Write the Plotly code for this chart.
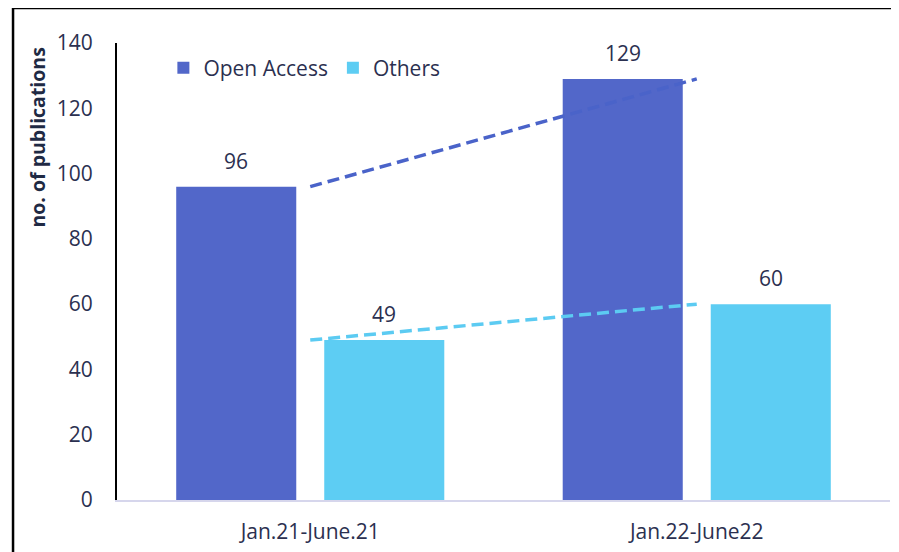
import plotly.graph_objects as go

categories = ["Jan.21-June.21", "Jan.22-June22"]
open_access = [96, 129]
others = [49, 60]
y_ticks = [0, 20, 40, 60, 80, 100, 120, 140]

FONT = "Open Sans"
TXT = "#2b3050"
FS = 21

fig = go.Figure()
fig.add_trace(go.Bar(
    x=categories, y=open_access, name="Open Access",
    marker=dict(color="#5267c9", line=dict(width=0)),
))
fig.add_trace(go.Bar(
    x=categories, y=others, name="Others",
    marker=dict(color="#5dcdf3", line=dict(width=0)),
))
fig.add_trace(go.Scatter(
    x=categories, y=open_access, mode="lines", showlegend=False,
    line=dict(color="#4a63c9", width=3.5, dash="12px,6px"), hoverinfo="skip",
))
fig.add_trace(go.Scatter(
    x=categories, y=others, mode="lines", showlegend=False,
    line=dict(color="#5ccbf2", width=3.5, dash="12px,6px"), hoverinfo="skip",
))

# value labels above bars (Excel-style larger gap)
labels = []
for vals, xs in ((open_access, -74), (others, 74)):
    for c, v in zip(categories, vals):
        labels.append(dict(x=c, y=v, text=str(v), xref="x", yref="y",
                           xanchor="center", yanchor="bottom", showarrow=False,
                           xshift=xs, yshift=10,
                           font=dict(size=FS, color=TXT, family=FONT)))

labels.append(dict(text="<b>no. of publications</b>", textangle=-90,
                   xref="paper", yref="paper", x=-0.103, y=0.794,
                   xanchor="center", yanchor="middle", showarrow=False,
                   font=dict(size=19.5, color="#1f2a44", family=FONT)))

fig.update_layout(
    width=899, height=552,
    margin=dict(l=109, r=17, t=35, b=60),
    paper_bgcolor="white", plot_bgcolor="white",
    barmode="group", bargap=0.234, bargroupgap=0.189,
    font=dict(family=FONT, size=FS, color=TXT),
    legend=dict(orientation="h", x=0.06, y=0.945, xanchor="left", yanchor="middle",
                font=dict(size=FS, color=TXT, family=FONT), itemwidth=30,
                bgcolor="rgba(0,0,0,0)", traceorder="normal"),
    xaxis=dict(showgrid=False, showline=True, linecolor="#d6d6ec", linewidth=2,
               ticks="", ticklabelstandoff=12, zeroline=False,
               tickfont=dict(size=FS, color=TXT, family=FONT)),
    yaxis=dict(range=[0, 140], tickvals=y_ticks, showgrid=False, showline=True,
               linecolor="black", linewidth=2, ticks="", ticklabelstandoff=18,
               zeroline=False, tickfont=dict(size=FS, color=TXT, family=FONT)),
    annotations=labels,
    shapes=[dict(type="rect", xref="paper", yref="paper",
                 x0=-0.1345, x1=1.2, y0=-0.3, y1=1.0766,
                 line=dict(color="black", width=2.5), layer="above")],
)

fig.write_html("out.html")
